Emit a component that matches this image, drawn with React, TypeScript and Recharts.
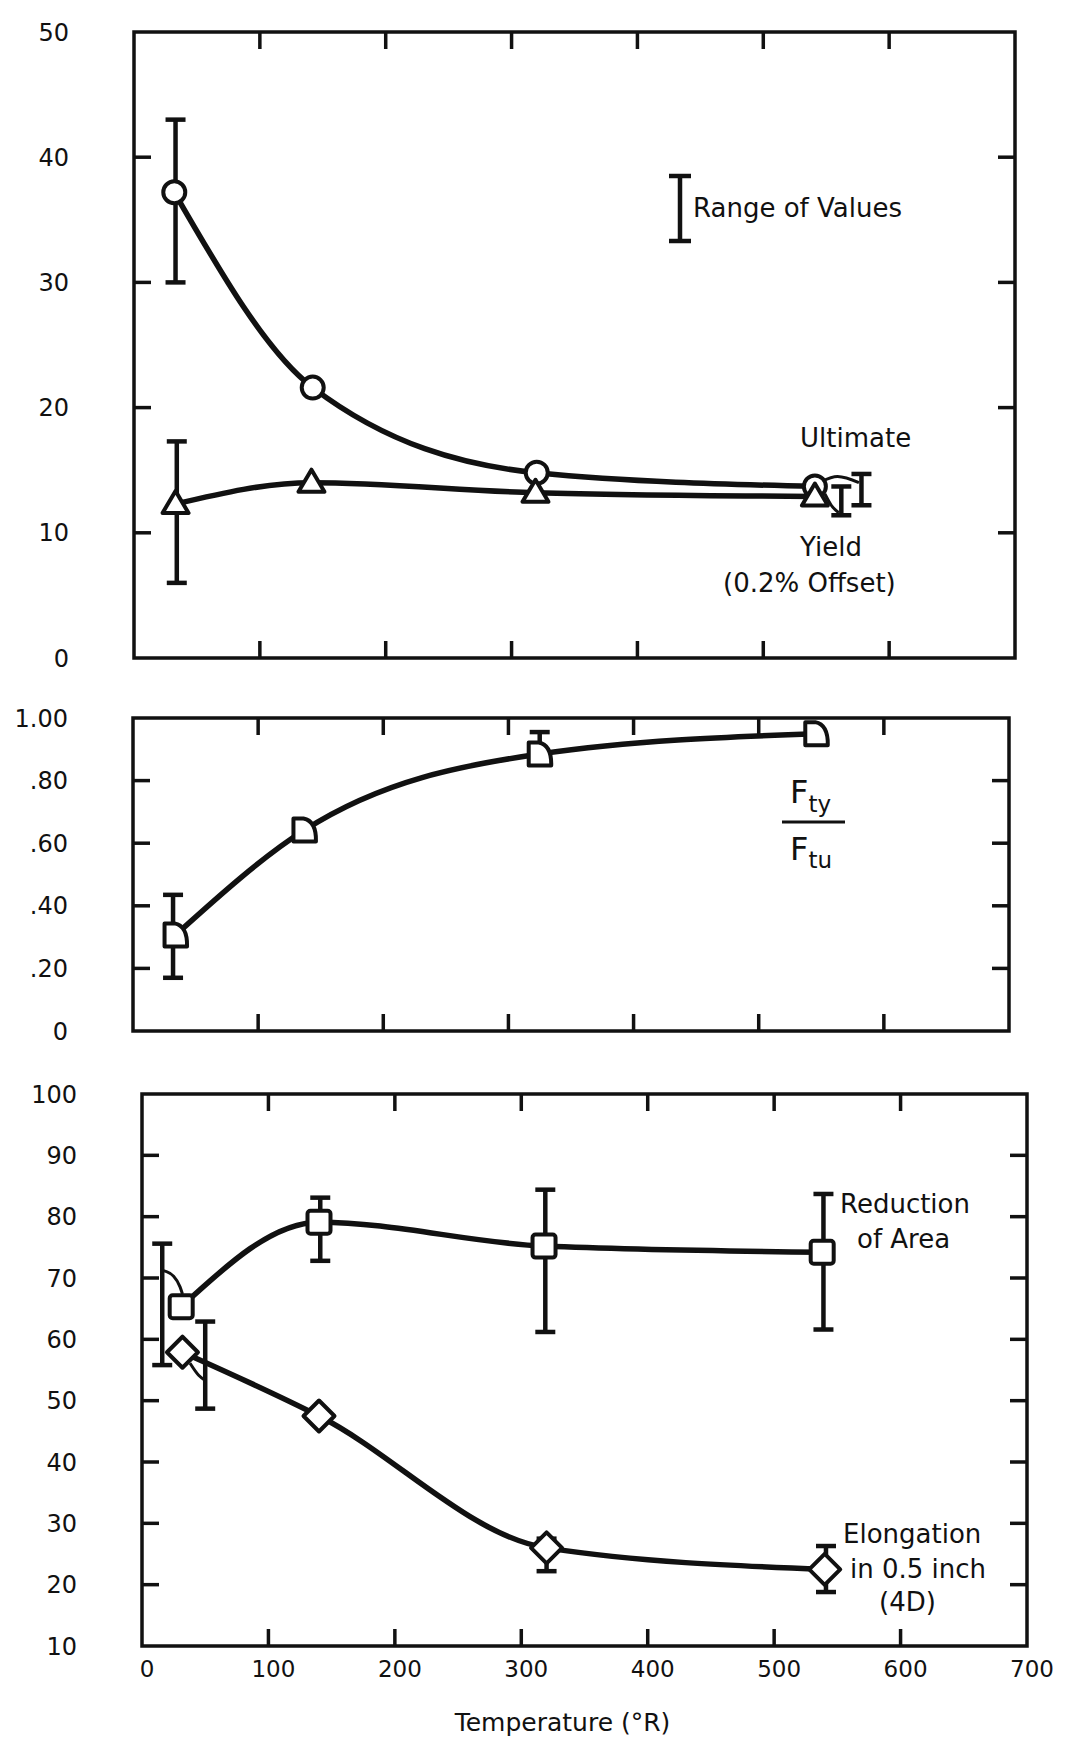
import React from 'react';
import { ComposedChart, Line, Scatter, XAxis, YAxis, ErrorBar, ReferenceArea } from 'recharts';

const FONT = 'DejaVu Sans, Verdana, sans-serif';
const INK = '#111';

const temperatureTicks = [0, 100, 200, 300, 400, 500, 600, 700];

// Panel 1: tensile strength (ksi)
const strengthTicks = [0, 10, 20, 30, 40, 50];
const ultimateTemp = [32, 142, 320, 541];
const ultimateStrength = [37.2, 21.6, 14.8, 13.7];
const yieldTemp = [33, 141, 319, 541];
const yieldStrength = [12.3, 14.0, 13.2, 12.9];
const strengthRangeTemp = [33, 34, 562, 578];
const strengthRangeLow = [30.0, 6.0, 11.4, 12.2];
const strengthRangeHigh = [43.0, 17.3, 13.7, 14.7];
const ultimateHookTemp = [546, 559, 576];
const ultimateHookValue = [14.1, 14.5, 14.0];
const yieldHookTemp = [549, 554, 560];
const yieldHookValue = [13.1, 12.2, 11.6];

// Panel 2: Fty / Ftu ratio
const ratioTicks = [0, 0.2, 0.4, 0.6, 0.8, 1.0];
const ratioTemp = [34, 137, 325, 546];
const ratioValue = [0.307, 0.642, 0.885, 0.95];
const ratioRangeTemp = [32, 325];
const ratioRangeLow = [0.17, 0.86];
const ratioRangeHigh = [0.435, 0.955];

// Panel 3: ductility (%)
const ductilityTicks = [10, 20, 30, 40, 50, 60, 70, 80, 90, 100];
const reductionTemp = [31, 140, 318, 538];
const reductionValue = [65.3, 79.1, 75.2, 74.2];
const reductionRangeTemp = [16, 141, 319, 539];
const reductionRangeLow = [55.8, 72.8, 61.2, 61.6];
const reductionRangeHigh = [75.6, 83.1, 84.4, 83.7];
const elongationTemp = [32, 140, 320, 540];
const elongationValue = [57.9, 47.5, 26.0, 22.5];
const elongationRangeTemp = [50, 320, 541];
const elongationRangeLow = [48.7, 22.2, 18.8];
const elongationRangeHigh = [62.9, 27.5, 26.3];
const reductionHookTemp = [17, 25, 30, 32];
const reductionHookValue = [71.2, 70.3, 68.6, 67.4];
const elongationHookTemp = [38, 45, 50];
const elongationHookValue = [56.1, 54.1, 53.3];

const zip = (xs: number[], ys: number[]) => xs.map((x, i) => ({ x, y: ys[i] }));
const rangeRows = (xs: number[], lo: number[], hi: number[]) =>
  xs.map((x, i) => ({ x, y: (lo[i] + hi[i]) / 2, err: (hi[i] - lo[i]) / 2 }));

type MarkerKind = 'circle' | 'triangle' | 'square' | 'diamond' | 'dee';

function Marker({ kind, cx, cy }: { kind: MarkerKind; cx: number; cy: number }) {
  const s = { fill: '#fff', stroke: INK, strokeWidth: 4, strokeLinejoin: 'round' as const };
  if (cx == null || cy == null) return <g />;
  switch (kind) {
    case 'circle':
      return <circle cx={cx} cy={cy} r={11} {...s} />;
    case 'triangle':
      return <path d={`M${cx},${cy - 13} L${cx + 13},${cy + 9} L${cx - 13},${cy + 9} Z`} {...s} />;
    case 'square':
      return <rect x={cx - 11.5} y={cy - 11.5} width={23} height={23} rx={3} {...s} />;
    case 'diamond':
      return <path d={`M${cx},${cy - 15.5} L${cx + 15.5},${cy} L${cx},${cy + 15.5} L${cx - 15.5},${cy} Z`} {...s} />;
    case 'dee':
      return (
        <path
          d={`M${cx - 11},${cy - 11.5} L${cx - 1},${cy - 11.5} Q${cx + 12},${cy - 9} ${cx + 11.5},${cy + 11.5} L${cx - 11},${cy + 11.5} Z`}
          {...s}
        />
      );
  }
  return <g />;
}

type LineSpec = { name: string; temp: number[]; value: number[]; marker: MarkerKind };
type RangeSpec = { name: string; temp: number[]; low: number[]; high: number[] };
type HookSpec = { name: string; temp: number[]; value: number[] };

type PanelProps = {
  top: number;
  height: number;
  plotLeft: number;
  plotRight: number;
  plotTop: number;
  plotBottom: number;
  yDomain: [number, number];
  yTicks: number[];
  fmt: (v: number) => string;
  lines: LineSpec[];
  ranges: RangeSpec[];
  hooks: HookSpec[];
  xLabels: boolean;
};

function Panel(p: PanelProps) {
  const W = 1067;
  const yAxisW = 80;
  const xAxisH = p.xLabels ? 90 : 10;
  const margin = {
    left: p.plotLeft - yAxisW,
    right: W - p.plotRight,
    top: p.plotTop - p.top,
    bottom: p.top + p.height - p.plotBottom - xAxisH,
  };
  const plotW = p.plotRight - p.plotLeft;
  const plotH = p.plotBottom - p.plotTop;
  const TL = 17;

  const yTick = (props: any) => {
    const { x, y, payload } = props;
    const v = payload.value;
    const inner = v !== p.yDomain[0] && v !== p.yDomain[1];
    return (
      <g>
        {inner && <line x1={x} y1={y} x2={x + TL} y2={y} stroke={INK} strokeWidth={3.5} />}
        {inner && <line x1={x + plotW} y1={y} x2={x + plotW - TL} y2={y} stroke={INK} strokeWidth={3.5} />}
        <text x={x - 65} y={y + 8.5} textAnchor="end" fontSize={24} fontFamily={FONT} fill={INK}>
          {p.fmt(v)}
        </text>
      </g>
    );
  };

  const xTick = (props: any) => {
    const { x, y, payload } = props;
    const v = payload.value;
    const inner = v !== 0 && v !== 700;
    return (
      <g>
        {inner && <line x1={x} y1={y} x2={x} y2={y - TL} stroke={INK} strokeWidth={3.5} />}
        {inner && <line x1={x} y1={y - plotH} x2={x} y2={y - plotH + TL} stroke={INK} strokeWidth={3.5} />}
        {p.xLabels && (
          <text x={x + 5} y={y + 31} textAnchor="middle" fontSize={23} fontFamily={FONT} fill={INK}>
            {v}
          </text>
        )}
      </g>
    );
  };

  const titleContent = (props: any) => {
    const vb = props.viewBox;
    return (
      <text
        x={vb.x + vb.width / 2 - 22}
        y={vb.y + 85}
        textAnchor="middle"
        fontSize={25}
        fontFamily={FONT}
        fill={INK}
      >
        Temperature (°R)
      </text>
    );
  };

  return (
    <div style={{ position: 'absolute', left: 0, top: p.top, width: W, height: p.height }}>
      <ComposedChart width={W} height={p.height} margin={margin}>
        <XAxis
          type="number"
          dataKey="x"
          domain={[0, 700]}
          ticks={temperatureTicks}
          interval={0}
          axisLine={false}
          tickLine={false}
          tickSize={0}
          tickMargin={0}
          height={xAxisH}
          tick={xTick}
          label={p.xLabels ? { content: titleContent } : undefined}
        />
        <YAxis
          type="number"
          domain={p.yDomain}
          ticks={p.yTicks}
          interval={0}
          axisLine={false}
          tickLine={false}
          tickSize={0}
          tickMargin={0}
          width={yAxisW}
          tick={yTick}
        />
        <ReferenceArea
          x1={0}
          x2={700}
          y1={p.yDomain[0]}
          y2={p.yDomain[1]}
          fill="none"
          fillOpacity={0}
          stroke={INK}
          strokeWidth={3.5}
          ifOverflow="visible"
        />
        {p.ranges.map((r) => (
          <Scatter
            key={r.name}
            name={r.name}
            data={rangeRows(r.temp, r.low, r.high)}
            dataKey="y"
            shape={() => <g />}
            isAnimationActive={false}
          >
            <ErrorBar dataKey="err" direction="y" width={10} strokeWidth={4.5} stroke={INK} isAnimationActive={false} />
          </Scatter>
        ))}
        {p.hooks.map((h) => (
          <Line
            key={h.name}
            data={zip(h.temp, h.value)}
            dataKey="y"
            type="monotone"
            stroke={INK}
            strokeWidth={3}
            dot={false}
            activeDot={false}
            isAnimationActive={false}
          />
        ))}
        {p.lines.map((l) => (
          <Line
            key={l.name}
            name={l.name}
            data={zip(l.temp, l.value)}
            dataKey="y"
            type="monotone"
            stroke={INK}
            strokeWidth={5.5}
            dot={(d: any) => <Marker key={`${l.name}-${d.index}`} kind={l.marker} cx={d.cx} cy={d.cy} />}
            activeDot={false}
            isAnimationActive={false}
          />
        ))}
      </ComposedChart>
    </div>
  );
}

const txt = { fontFamily: FONT, fill: INK, fontSize: 26 };

export default function App() {
  return (
    <div style={{ position: 'absolute', left: 0, top: 0, width: 1067, height: 1745, background: '#fff' }}>
      <Panel
        top={0}
        height={700}
        plotLeft={134}
        plotRight={1015}
        plotTop={32}
        plotBottom={658}
        yDomain={[0, 50]}
        yTicks={strengthTicks}
        fmt={(v) => String(v)}
        lines={[
          { name: 'Ultimate', temp: ultimateTemp, value: ultimateStrength, marker: 'circle' },
          { name: 'Yield', temp: yieldTemp, value: yieldStrength, marker: 'triangle' },
        ]}
        ranges={[{ name: 'strengthRange', temp: strengthRangeTemp, low: strengthRangeLow, high: strengthRangeHigh }]}
        hooks={[
          { name: 'uHook', temp: ultimateHookTemp, value: ultimateHookValue },
          { name: 'yHook', temp: yieldHookTemp, value: yieldHookValue },
        ]}
        xLabels={false}
      />
      <Panel
        top={690}
        height={380}
        plotLeft={133}
        plotRight={1009}
        plotTop={718}
        plotBottom={1031}
        yDomain={[0, 1]}
        yTicks={ratioTicks}
        fmt={(v) => (v === 0 ? '0' : v === 1 ? '1.00' : '.' + Math.round(v * 100))}
        lines={[{ name: 'Ratio', temp: ratioTemp, value: ratioValue, marker: 'dee' }]}
        ranges={[{ name: 'ratioRange', temp: ratioRangeTemp, low: ratioRangeLow, high: ratioRangeHigh }]}
        hooks={[]}
        xLabels={false}
      />
      <Panel
        top={1070}
        height={675}
        plotLeft={142}
        plotRight={1027}
        plotTop={1094}
        plotBottom={1646}
        yDomain={[10, 100]}
        yTicks={ductilityTicks}
        fmt={(v) => String(v)}
        lines={[
          { name: 'Reduction of Area', temp: reductionTemp, value: reductionValue, marker: 'square' },
          { name: 'Elongation', temp: elongationTemp, value: elongationValue, marker: 'diamond' },
        ]}
        ranges={[
          { name: 'raRange', temp: reductionRangeTemp, low: reductionRangeLow, high: reductionRangeHigh },
          { name: 'elRange', temp: elongationRangeTemp, low: elongationRangeLow, high: elongationRangeHigh },
        ]}
        hooks={[
          { name: 'raHook', temp: reductionHookTemp, value: reductionHookValue },
          { name: 'elHook', temp: elongationHookTemp, value: elongationHookValue },
        ]}
        xLabels={true}
      />
      <svg
        width={1067}
        height={1745}
        style={{ position: 'absolute', left: 0, top: 0, pointerEvents: 'none' }}
      >
        <g stroke={INK} strokeWidth={4.5}>
          <line x1={680} y1={176} x2={680} y2={241} />
          <line x1={669} y1={176} x2={691} y2={176} />
          <line x1={669} y1={241} x2={691} y2={241} />
        </g>
        <text x={693} y={217} {...txt}>Range of Values</text>
        <text x={800} y={447} {...txt}>Ultimate</text>
        <text x={800} y={556} {...txt}>Yield</text>
        <text x={723} y={592} {...txt}>(0.2% Offset)</text>

        <text x={790} y={803} fontFamily={FONT} fill={INK} fontSize={32}>
          F<tspan fontSize={23} dy={9}>ty</tspan>
        </text>
        <line x1={782} y1={822} x2={845} y2={822} stroke={INK} strokeWidth={3} />
        <text x={790} y={860} fontFamily={FONT} fill={INK} fontSize={32}>
          F<tspan fontSize={23} dy={8}>tu</tspan>
        </text>

        <text x={840} y={1213} {...txt}>Reduction</text>
        <text x={857} y={1248} {...txt}>of Area</text>
        <text x={843} y={1543} {...txt}>Elongation</text>
        <text x={850} y={1578} {...txt}>in 0.5 inch</text>
        <text x={879} y={1611} {...txt}>(4D)</text>
      </svg>
    </div>
  );
}
